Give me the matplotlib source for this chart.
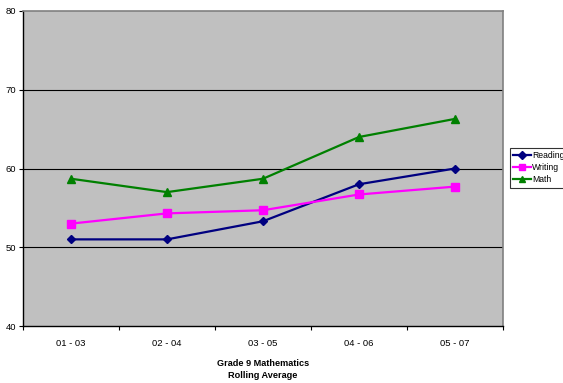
import matplotlib
matplotlib.use("Agg")
import matplotlib.pyplot as plt
import numpy as np

plt.rcParams['font.family'] = ['Liberation Sans', 'DejaVu Sans']

categories = ["01 - 03", "02 - 04", "03 - 05", "04 - 06", "05 - 07"]
reading = [51.0, 51.0, 53.3, 58.0, 60.0]
writing = [53.0, 54.3, 54.7, 56.7, 57.7]
math_scores = [58.7, 57.0, 58.7, 64.0, 66.3]
y_ticks = [40, 50, 60, 70, 80]

fig = plt.figure(figsize=(5.63, 3.83), dpi=100)
ax = fig.add_axes([23/563, 1-326/383, 480/563, 315/383])
ax.set_facecolor('#C0C0C0')

x = np.arange(len(categories))
ax.plot(x, reading, color='#000080', lw=1.6, marker='D', ms=4.5, label='Reading', zorder=3)
ax.plot(x, writing, color='#FF00FF', lw=1.6, marker='s', ms=5.5, label='Writing', zorder=3)
ax.plot(x, math_scores, color='#008000', lw=1.6, marker='^', ms=6, label='Math', zorder=3)

ax.set_xlim(-0.5, len(categories) - 0.5)
ax.set_ylim(40, 80)
ax.set_yticks(y_ticks)
ax.set_yticklabels([str(v) for v in y_ticks], fontsize=6.8)
ax.set_xticks(x)
ax.set_xticklabels(categories, fontsize=6.8)
ax.set_xticks(np.arange(-0.5, len(categories)), minor=True)
ax.tick_params(axis='x', which='major', length=0, pad=9)
ax.tick_params(axis='x', which='minor', length=3, width=0.8, direction='out')
ax.tick_params(axis='y', length=3, width=0.8, direction='out', pad=2)

for v in [50, 60, 70]:
    ax.axhline(v, color='black', lw=0.8, zorder=1)

for side in ['top', 'right']:
    ax.spines[side].set_color('#808080')
    ax.spines[side].set_linewidth(1.2)
for side in ['left', 'bottom']:
    ax.spines[side].set_color('black')
    ax.spines[side].set_linewidth(1.0)

fig.text(263/563, 1-364/383, "Grade 9 Mathematics", ha='center', va='center',
         fontsize=6.6, fontweight='bold')
fig.text(263/563, 1-376/383, "Rolling Average", ha='center', va='center',
         fontsize=6.6, fontweight='bold')

leg = ax.legend(loc='upper left', bbox_to_anchor=(510/563, 1-148/383),
                bbox_transform=fig.transFigure, fontsize=6.2, frameon=True,
                fancybox=False, edgecolor='black', handlelength=2.0,
                handletextpad=0.15, borderpad=0.4, labelspacing=0.35,
                borderaxespad=0, markerscale=0.8)
leg.get_frame().set_linewidth(0.8)

fig.savefig("out.png", dpi=100)
